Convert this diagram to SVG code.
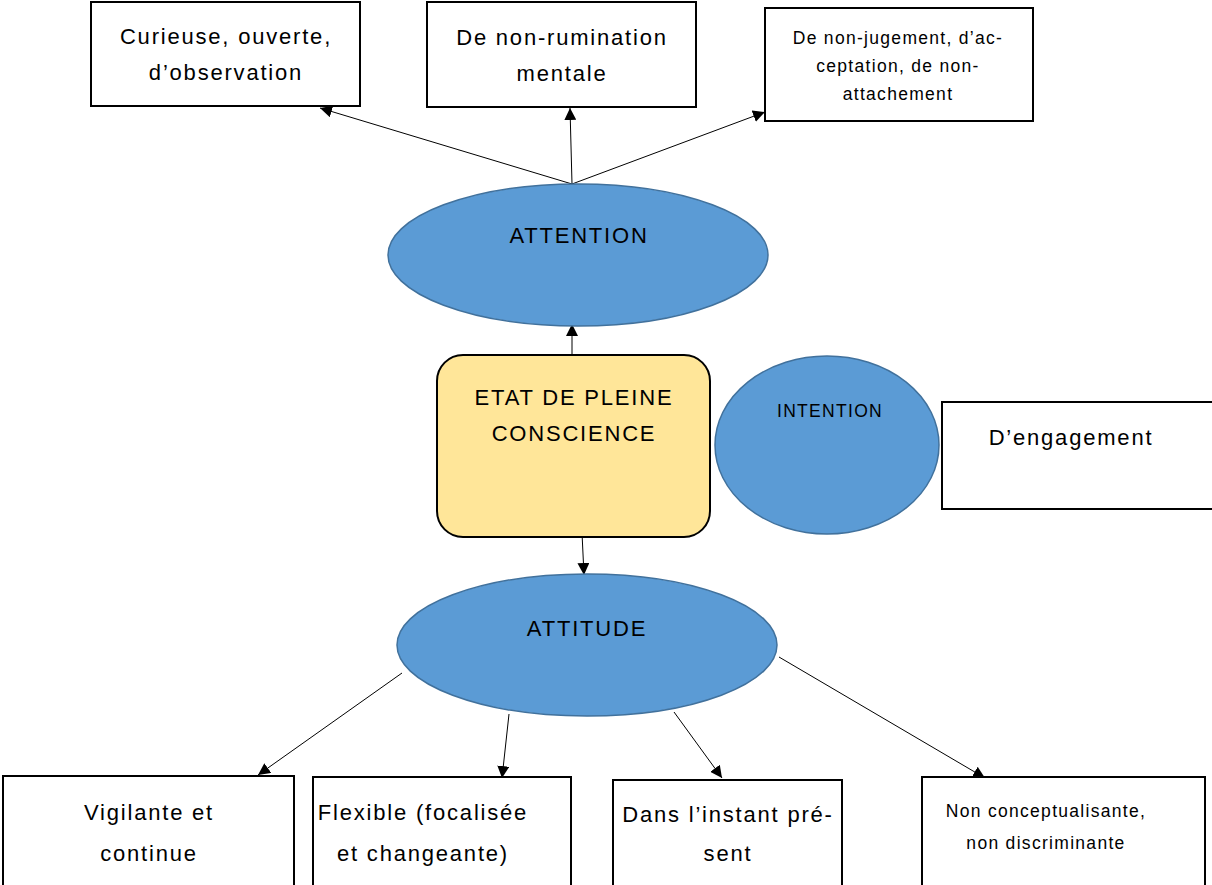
<svg xmlns="http://www.w3.org/2000/svg" width="1212" height="885" viewBox="0 0 1212 885">
<defs>
<marker id="ah" viewBox="0 0 10 10" refX="10" refY="5" markerWidth="12" markerHeight="12" markerUnits="userSpaceOnUse" orient="auto">
<path d="M0,0 L10,5 L0,10 z" fill="#000"/>
</marker>
</defs>
<style>
.box{fill:#fff;stroke:#000;stroke-width:2}
.ell{fill:#5B9BD5;stroke:#41719C;stroke-width:1.5}
.core{fill:#FFE699;stroke:#000;stroke-width:2}
.t{font-family:"Liberation Sans",Arial,sans-serif;font-size:22px;letter-spacing:1.8px;fill:#000;text-anchor:middle}
.s{font-size:17.5px;letter-spacing:1.3px}
.c{stroke:#000;stroke-width:1;fill:none;marker-end:url(#ah)}
</style>
<rect width="1212" height="885" fill="#fff"/>
<g id="connectors">
<line class="c" x1="572" y1="184" x2="320" y2="108"/>
<line class="c" x1="572" y1="184" x2="570" y2="108"/>
<line class="c" x1="572" y1="184" x2="765" y2="112"/>
<line class="c" x1="572" y1="355" x2="572" y2="324"/>
<line class="c" x1="582" y1="533" x2="584" y2="575"/>
<line class="c" x1="402" y1="673" x2="258" y2="775"/>
<line class="c" x1="509" y1="714" x2="502" y2="778"/>
<line class="c" x1="674" y1="712" x2="722" y2="778"/>
<line class="c" x1="779" y1="657" x2="985" y2="778"/>
</g>
<g id="n-curieuse">
<rect class="box" x="91" y="2" width="269" height="104"/>
<text class="t" x="226" y="44">Curieuse, ouverte,</text>
<text class="t" x="226" y="80">d’observation</text>
</g>
<g id="n-rumination">
<rect class="box" x="427" y="2" width="269" height="105"/>
<text class="t" x="562" y="45">De non-rumination</text>
<text class="t" x="562" y="81">mentale</text>
</g>
<g id="n-jugement">
<rect class="box" x="765" y="8" width="268" height="113"/>
<text class="t s" x="898" y="44">De non-jugement, d’ac-</text>
<text class="t s" x="898" y="72">ceptation, de non-</text>
<text class="t s" x="898" y="100">attachement</text>
</g>
<g id="n-attention">
<ellipse class="ell" cx="578" cy="255" rx="190" ry="71"/>
<text class="t" x="579" y="243">ATTENTION</text>
</g>
<g id="n-etat">
<rect class="core" x="437" y="355" width="273" height="182" rx="26"/>
<text class="t" x="574" y="405">ETAT DE PLEINE</text>
<text class="t" x="574" y="441">CONSCIENCE</text>
</g>
<g id="n-intention">
<ellipse class="ell" cx="827" cy="445" rx="112" ry="89"/>
<text class="t s" x="830" y="417">INTENTION</text>
</g>
<g id="n-engagement">
<rect class="box" x="942" y="402" width="272" height="107"/>
<text class="t" x="1071" y="445">D’engagement</text>
</g>
<g id="n-attitude">
<ellipse class="ell" cx="587" cy="645" rx="190" ry="71"/>
<text class="t" x="587" y="636">ATTITUDE</text>
</g>
<g id="n-vigilante">
<rect class="box" x="3" y="776" width="291" height="112"/>
<text class="t" x="149" y="820">Vigilante et</text>
<text class="t" x="149" y="861">continue</text>
</g>
<g id="n-flexible">
<rect class="box" x="313" y="777" width="258" height="111"/>
<text class="t" x="423" y="820">Flexible (focalisée</text>
<text class="t" x="423" y="861">et changeante)</text>
</g>
<g id="n-instant">
<rect class="box" x="613" y="780" width="229" height="108"/>
<text class="t" x="728" y="822">Dans l’instant pré-</text>
<text class="t" x="728" y="861">sent</text>
</g>
<g id="n-nonconcept">
<rect class="box" x="922" y="777" width="283" height="111"/>
<text class="t s" x="1046" y="817">Non conceptualisante,</text>
<text class="t s" x="1046" y="849">non discriminante</text>
</g>
</svg>
